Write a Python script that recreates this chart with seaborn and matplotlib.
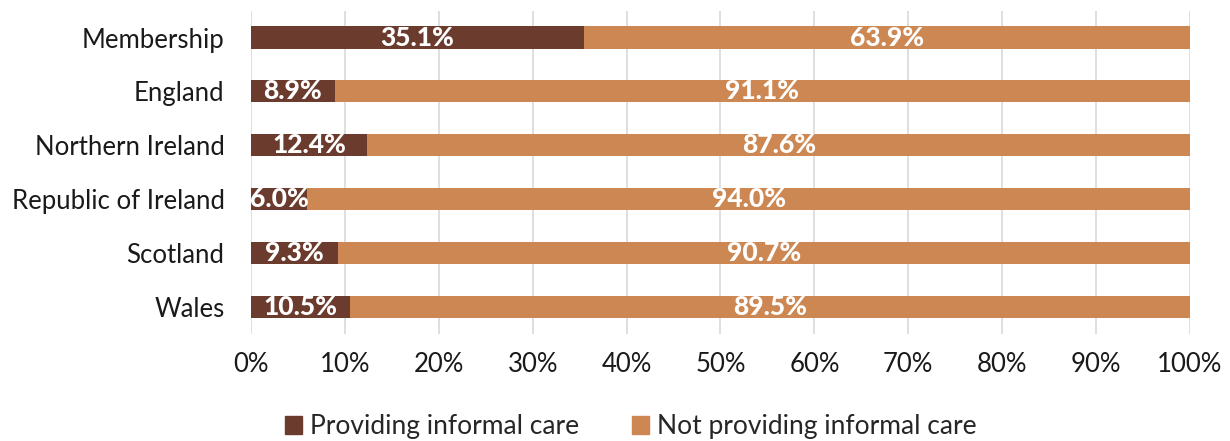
import matplotlib
matplotlib.use('Agg')
import matplotlib.pyplot as plt
import seaborn as sns
import pandas as pd
from matplotlib.patches import Patch
from matplotlib.ticker import PercentFormatter

regions = ['Membership', 'England', 'Northern Ireland', 'Republic of Ireland', 'Scotland', 'Wales']
providing = [35.1, 8.9, 12.4, 6.0, 9.3, 10.5]
not_providing = [63.9, 91.1, 87.6, 94.0, 90.7, 89.5]

dark = '#6B3B2E'
light = '#CD8752'

sns.set_theme(style='white')
plt.rcParams['font.family'] = ['Lato', 'DejaVu Sans']

df = pd.DataFrame({'region': regions, 'prov': providing, 'notprov': not_providing})
# 100% stacked, like the source chart
df['total'] = df['prov'] + df['notprov']
df['prov_pct'] = df['prov'] / df['total'] * 100
df['full'] = 100.0

fig = plt.figure(figsize=(12.3, 4.41), dpi=100)
ax = fig.add_axes([0.204, 0.243, 0.7635, 0.733])

sns.barplot(data=df, x='full', y='region', orient='h', color=light, width=0.41,
            saturation=1, linewidth=0, ax=ax, zorder=2)
sns.barplot(data=df, x='prov_pct', y='region', orient='h', color=dark, width=0.41,
            saturation=1, linewidth=0, ax=ax, zorder=3)

for i, row in df.iterrows():
    ax.text(row['prov_pct'] / 2, i, f"{row['prov']:.1f}%", ha='center', va='center',
            color='white', fontsize=19, fontweight='black', zorder=4, clip_on=True)
    ax.text(row['prov_pct'] + (100 - row['prov_pct']) / 2, i, f"{row['notprov']:.1f}%",
            ha='center', va='center', color='white', fontsize=19, fontweight='black', zorder=4)

ax.set_xlim(0, 100)
ax.set_ylim(5.5, -0.5)
ax.set_xticks(range(0, 101, 10))
ax.xaxis.set_major_formatter(PercentFormatter(decimals=0))
ax.grid(axis='x', color='#D9D9D9', linewidth=1.2, zorder=0)
ax.set_axisbelow(True)
for s in ax.spines.values():
    s.set_visible(False)
ax.set_xlabel('')
ax.set_ylabel('')
ax.tick_params(axis='both', length=0, labelsize=18.5, colors='#1a1a1a')
ax.tick_params(axis='x', pad=13)
ax.tick_params(axis='y', pad=19)

handles = [Patch(color=dark, label='Providing informal care'),
           Patch(color=light, label='Not providing informal care')]
fig.legend(handles=handles, loc='lower center', bbox_to_anchor=(0.513, -0.05), ncol=2,
           frameon=False, fontsize=19, handlelength=0.65, handleheight=0.65,
           handletextpad=0.3, columnspacing=2.0)

fig.savefig('out.png', dpi=100)
